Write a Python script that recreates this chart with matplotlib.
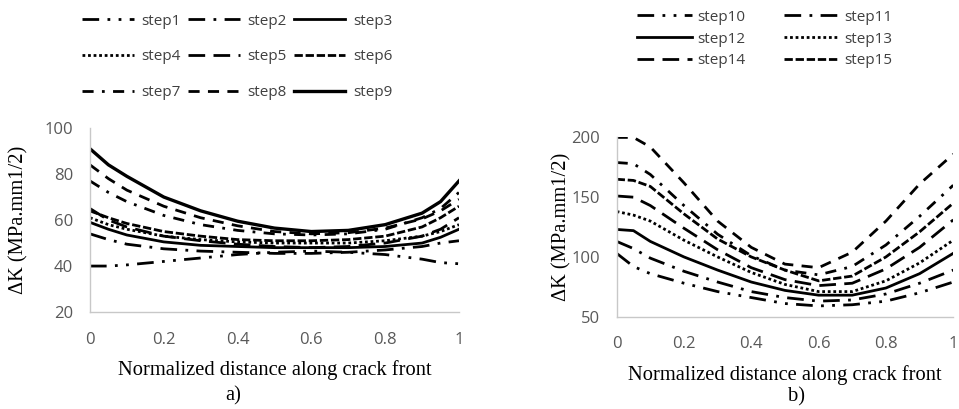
import matplotlib.pyplot as plt

# normalized position along the crack front
x_a = [0, 0.05, 0.1, 0.2, 0.3, 0.4, 0.5, 0.6, 0.7, 0.8, 0.9, 0.95, 1.0]
x_b = [0, 0.05, 0.1, 0.2, 0.3, 0.4, 0.5, 0.6, 0.7, 0.8, 0.9, 1.0]

# a) steps 1-9, delta K in MPa.mm^1/2
step1 = [40, 40, 40.5, 42, 43.5, 45, 46, 46.5, 46, 45, 43, 41.5, 41]
step2 = [54, 51.5, 49.5, 47.5, 46.5, 46, 45.5, 45.5, 46, 47, 48.5, 50, 51]
step3 = [59, 56, 53.5, 50.5, 49, 48.5, 48, 48, 48, 48.5, 50, 52.5, 56]
step4 = [61, 58, 56, 53, 51.5, 50.5, 50, 50, 50, 51, 53, 55, 58]
step5 = [65, 60, 57, 53, 51, 49.5, 48.5, 48, 48.5, 50, 53, 56, 61]
step6 = [64, 61, 58.5, 55, 53, 51.5, 51, 51, 51.5, 53, 57, 61, 66]
step7 = [77, 72, 68, 62, 58, 55.5, 54, 53.5, 54, 56, 61, 65, 72]
step8 = [84, 78, 73, 66, 61, 57.5, 55, 54, 54.5, 56.5, 60.5, 64, 69]
step9 = [91, 84, 79, 70, 64, 59.5, 56.5, 55, 55.5, 58, 63, 68, 77]

# b) steps 10-17
step10 = [103, 92, 86, 78, 71, 66, 61, 59, 60, 63, 70, 79]
step11 = [113, 107, 99, 88, 79, 71, 66, 63, 64, 69, 78, 89]
step12 = [123, 122, 113, 100, 89, 79, 72, 68, 68, 74, 86, 103]
step13 = [138, 135, 130, 114, 100, 87, 77, 71, 71, 80, 95, 114]
step14 = [151, 150, 143, 124, 106, 91, 81, 76, 78, 90, 108, 131]
step15 = [165, 164, 159, 136, 115, 100, 89, 80, 84, 100, 121, 145]
step16 = [179, 178, 169, 143, 119, 101, 89, 85, 92, 110, 134, 160]
step17 = [200, 200, 192, 162, 130, 108, 94, 91, 104, 130, 161, 186]

# dash patterns (in multiples of line width)
styles = [
    (0, (6, 3, 1, 3, 1, 3)),   # long dash dot dot
    (0, (6, 3, 1, 3)),         # long dash dot
    '-',                       # solid
    (0, (1, 1)),               # round dot
    (0, (6, 3)),               # long dash
    (0, (3, 1)),               # square dash
    (0, (4, 3, 1, 3)),         # dash dot
    (0, (4, 3)),               # dash
    '-',
]

series_a = [step1, step2, step3, step4, step5, step6, step7, step8, step9]
series_b = [step10, step11, step12, step13, step14, step15, step16, step17]

plt.rcParams['font.family'] = ['Open Sans', 'DejaVu Sans']
fig = plt.figure(figsize=(9.59, 4.09), dpi=100)
ax_a = fig.add_axes([0.0938, 0.237, 0.3848, 0.450])
ax_b = fig.add_axes([0.643, 0.2257, 0.351, 0.4383])

grey = '#595959'
serif = 'Liberation Serif'


def style_axes(ax, ylim, yticks, xlab_y, ylab_x):
    ax.set_xlim(0, 1)
    ax.set_ylim(*ylim)
    ax.set_yticks(yticks)
    ax.set_xticks([0, 0.2, 0.4, 0.6, 0.8, 1.0])
    ax.set_xticklabels(['0', '0.2', '0.4', '0.6', '0.8', '1'])
    for s in ['top', 'right']:
        ax.spines[s].set_visible(False)
    for s in ['left', 'bottom']:
        ax.spines[s].set_color('#c8c8c8')
        ax.spines[s].set_linewidth(1.0)
    ax.tick_params(length=0, labelsize=12, labelcolor=grey)
    ax.tick_params(axis='y', pad=12)
    ax.tick_params(axis='x', pad=14)
    yl = ax.set_ylabel('ΔK (MPa.mm1/2)', family=serif, fontsize=14.8)
    yl.set_va('center')
    ax.yaxis.set_label_coords(ylab_x, 0.5)
    xl = ax.set_xlabel('Normalized distance along crack front', family=serif,
                       fontsize=14.8)
    xl.set_va('center')
    ax.xaxis.set_label_coords(0.5, xlab_y)


lines_a = []
for i, ys in enumerate(series_a):
    lw = 2.4 if i == 8 else 2.0
    ln, = ax_a.plot(x_a, ys, color='black', lw=lw, linestyle=styles[i],
                    label='step%d' % (i + 1))
    lines_a.append(ln)

lines_b = []
for i, ys in enumerate(series_b):
    ln, = ax_b.plot(x_b, ys, color='black', lw=2.0, linestyle=styles[i],
                    label='step%d' % (i + 10))
    lines_b.append(ln)

style_axes(ax_a, (20, 100), [20, 40, 60, 80, 100], -58 / 184, -71 / 369)
style_axes(ax_b, (50, 200), [50, 100, 150, 200], -58 / 179.4, -55 / 336)

# legends read row by row, matplotlib fills column by column
order_a = [0, 3, 6, 1, 4, 7, 2, 5, 8]
fig.legend(handles=[lines_a[k] for k in order_a], loc='upper left',
           bbox_to_anchor=(0.071, 1.0), ncol=3, frameon=False, fontsize=11,
           handlelength=3.4, handletextpad=0.5, columnspacing=0.45,
           labelspacing=1.35, labelcolor='#404040')
order_b = [0, 2, 4, 1, 3, 5]
fig.legend(handles=[lines_b[k] for k in order_b], loc='upper left',
           bbox_to_anchor=(0.650, 1.01), ncol=2, frameon=False, fontsize=11,
           handlelength=3.6, handletextpad=0.35, columnspacing=2.5,
           labelspacing=0.45, labelcolor='#404040')

fig.text(0.243, 0.032, 'a)', family=serif, fontsize=14.8, ha='center', va='center')
fig.text(0.831, 0.030, 'b)', family=serif, fontsize=14.8, ha='center', va='center')

fig.savefig('out.png', dpi=100)
